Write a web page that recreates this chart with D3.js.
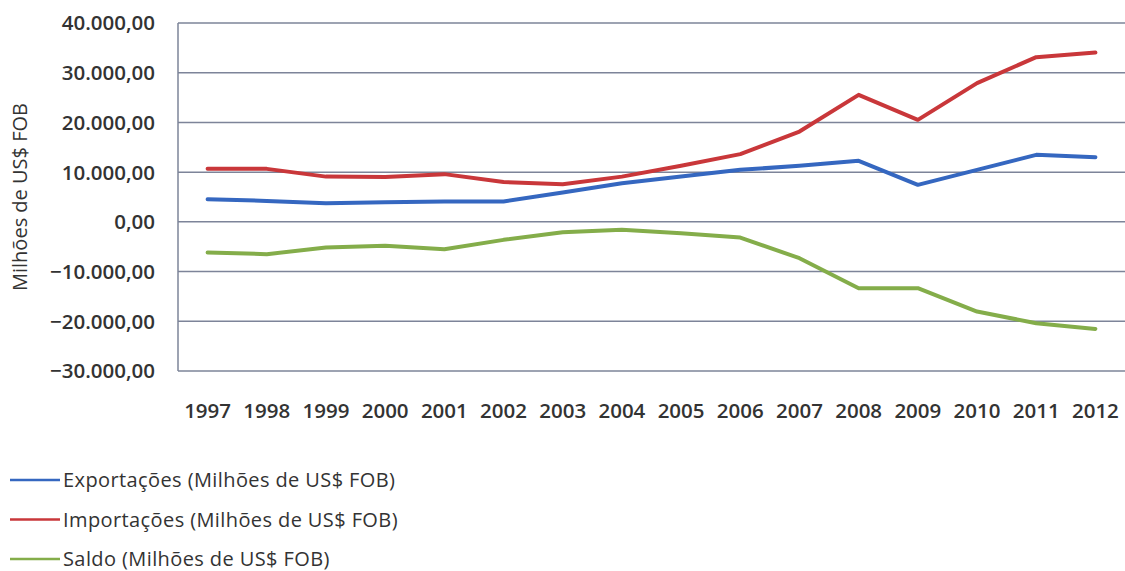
<!DOCTYPE html>
<html><head><meta charset="utf-8">
<script src="https://cdn.jsdelivr.net/npm/d3@7"></script>
<style>body{margin:0;background:#fff}svg{display:block}</style>
</head><body>
<svg id="c" width="1125" height="571"></svg>
<script>
const years = ["1997","1998","1999","2000","2001","2002","2003","2004","2005","2006","2007","2008","2009","2010","2011","2012"];
const exportacoes = [4560,4220,3760,3960,4100,4100,5900,7780,9120,10460,11270,12270,7440,10460,13480,13010];
const importacoes = [10660,10660,9100,9000,9600,8000,7580,9100,11270,13620,18170,25550,20520,27900,33130,34060];
const saldo = [-6170,-6500,-5160,-4830,-5500,-3620,-2080,-1610,-2280,-3150,-7310,-13350,-13350,-18040,-20390,-21530];
const yTicks = [40000,30000,20000,10000,0,-10000,-20000,-30000];
const seriesNames = ["Exportações (Milhões de US$ FOB)","Importações (Milhões de US$ FOB)","Saldo (Milhões de US$ FOB)"];
const seriesColors = ["#3567c0","#c9373a","#84ad4a"];
const yTitle = "Milhões de US$ FOB";

const svg = d3.select("#c");
const L = 178, R = 1125, T = 23, B = 371;
const x = d3.scaleBand().domain(years).range([L, R]);
const y = d3.scaleLinear().domain([-30000, 40000]).range([B, T]);
const fmt = v => d3.format(",.2f")(v).replace(/,/g, "X").replace(/\./g, ",").replace(/X/g, ".");
const font = "'Open Sans', sans-serif";

// gridlines
svg.append("g").selectAll("line").data(yTicks).join("line")
  .attr("x1", L).attr("x2", R).attr("y1", d => y(d)).attr("y2", d => y(d))
  .attr("stroke", "#7d8499").attr("stroke-width", 1.5);
svg.append("line").attr("x1", L).attr("x2", L).attr("y1", T).attr("y2", B)
  .attr("stroke", "#7d8499").attr("stroke-width", 1.5);

// y labels
svg.append("g").selectAll("text").data(yTicks).join("text")
  .attr("x", 155).attr("y", d => y(d)).attr("dy", "0.36em")
  .attr("text-anchor", "end").attr("font-family", font).attr("font-size", 20.5)
  .attr("font-weight", 600).attr("fill", "#333").text(fmt);

// x labels
svg.append("g").selectAll("text").data(years).join("text")
  .attr("x", d => x(d) + x.bandwidth() / 2).attr("y", 411).attr("dy", "0.36em")
  .attr("text-anchor", "middle").attr("font-family", font).attr("font-size", 20.5)
  .attr("font-weight", 600).attr("fill", "#333").text(d => d);

// y title
svg.append("text").attr("transform", "translate(27,197) rotate(-90)")
  .attr("text-anchor", "middle").attr("font-family", font).attr("font-size", 20)
  .attr("fill", "#333").text(yTitle);

// lines
const line = d3.line().x((d, i) => x(years[i]) + x.bandwidth() / 2).y(d => y(d));
[exportacoes, importacoes, saldo].forEach((s, k) => {
  svg.append("path").attr("d", line(s)).attr("fill", "none")
    .attr("stroke", seriesColors[k]).attr("stroke-width", 4)
    .attr("stroke-linejoin", "round").attr("stroke-linecap", "round");
});

// legend
const lg = svg.append("g").selectAll("g").data(seriesNames).join("g")
  .attr("transform", (d, i) => `translate(0,${480 + i * 39.5})`);
lg.append("line").attr("x1", 10).attr("x2", 60).attr("y1", 0).attr("y2", 0)
  .attr("stroke", (d, i) => seriesColors[i]).attr("stroke-width", 2.5);
lg.append("text").attr("x", 63).attr("dy", "0.36em").attr("font-family", font)
  .attr("font-size", 20).attr("letter-spacing", 0.4).attr("fill", "#333").text(d => d);
</script>
</body></html>
